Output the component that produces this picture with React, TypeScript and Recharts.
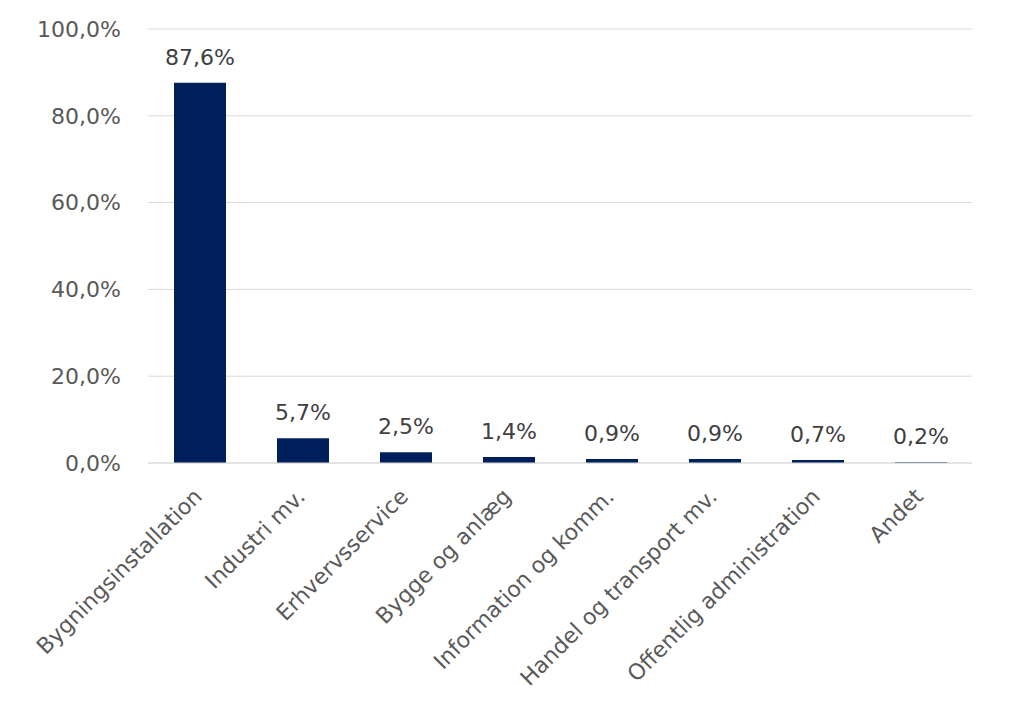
import React from "react";
import { BarChart, Bar, XAxis, YAxis, CartesianGrid, LabelList } from "recharts";

const categories = [
  "Bygningsinstallation",
  "Industri mv.",
  "Erhvervsservice",
  "Bygge og anlæg",
  "Information og komm.",
  "Handel og transport mv.",
  "Offentlig administration",
  "Andet",
];
const shares = [87.6, 5.7, 2.5, 1.4, 0.9, 0.9, 0.7, 0.2];
const yTicks = [0, 20, 40, 60, 80, 100];

const data = categories.map((c, i) => ({ name: c, value: shares[i] }));

const FONT = "'DejaVu Sans', Verdana, sans-serif";
const fmt1 = (v: number) => v.toFixed(1).replace(".", ",") + "%";

const XTick = (props: any) => {
  const { x, y, payload } = props;
  return (
    <g transform={`translate(${x - 1},${y + 22})`}>
      <text
        transform="rotate(-45)"
        textAnchor="end"
        fontFamily={FONT}
        fontSize={22}
        fill="#595959"
        dy={7}
      >
        {payload.value}
      </text>
    </g>
  );
};

export default function App() {
  return (
    <div style={{ width: 1011, height: 701 }}>
      <BarChart
        width={1011}
        height={701}
        data={data}
        margin={{ top: 21, right: 47, left: 0, bottom: 6 }}
        barCategoryGap="25%"
      >
        <CartesianGrid vertical={false} stroke="#d9d9d9" strokeWidth={1} />
        <XAxis
          dataKey="name"
          interval={0}
          tickLine={false}
          axisLine={{ stroke: "#d9d9d9" }}
          tick={<XTick />}
          height={240}
        />
        <YAxis
          domain={[0, 100]}
          ticks={yTicks}
          tickFormatter={fmt1}
          axisLine={false}
          tickLine={false}
          tickMargin={21}
          width={140}
          tick={{ fontFamily: FONT, fontSize: 22, fill: "#595959" }}
        />
        <Bar dataKey="value" fill="#00205b" isAnimationActive={false} barSize={52}>
          <LabelList
            dataKey="value"
            position="top"
            offset={18}
            formatter={(v: any) => fmt1(Number(v))}
            style={{ fontFamily: FONT, fontSize: 22, fill: "#404040" }}
          />
        </Bar>
      </BarChart>
    </div>
  );
}
